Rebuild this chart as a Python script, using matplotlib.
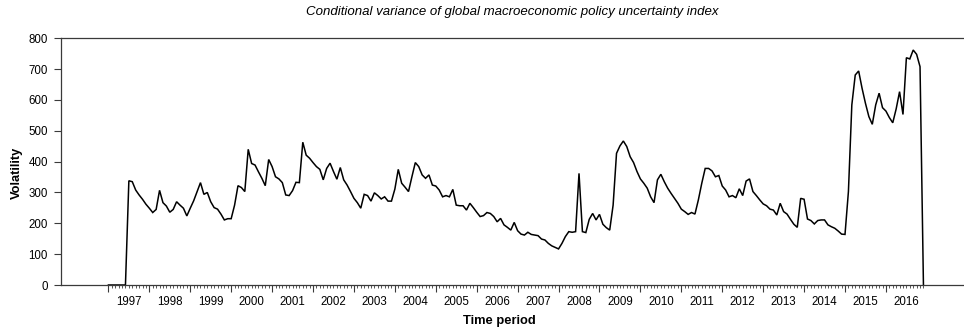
import matplotlib
matplotlib.use("Agg")
import matplotlib.pyplot as plt

plt.rcParams['font.family'] = ['Liberation Sans', 'DejaVu Sans']

# Monthly conditional variance, Jan 1997 - Dec 2016
years = list(range(1997, 2017))
volatility = [
    0, 0, 0, 0, 0, 0, 338, 335, 308, 292, 278, 262,
    249, 235, 245, 307, 267, 256, 236, 245, 270, 259, 249, 224,
    249, 273, 303, 332, 294, 300, 270, 251, 246, 230, 211, 215,
    215, 259, 322, 316, 303, 440, 394, 389, 367, 346, 322, 407,
    384, 351, 344, 332, 292, 290, 306, 333, 332, 463, 421, 411,
    397, 384, 375, 341, 378, 395, 368, 343, 381, 341, 324, 303,
    281, 267, 249, 294, 290, 272, 299, 290, 279, 286, 272, 272,
    311, 375, 330, 317, 303, 351, 397, 384, 357, 346, 357, 324,
    321, 308, 286, 290, 286, 310, 259, 257, 257, 243, 265, 251,
    236, 222, 225, 235, 232, 222, 205, 216, 195, 187, 178, 203,
    176, 165, 162, 171, 164, 162, 160, 149, 146, 135, 127, 122,
    117, 135, 157, 173, 171, 173, 362, 173, 170, 213, 232, 211,
    229, 197, 186, 178, 259, 427, 451, 467, 449, 416, 397, 368,
    344, 330, 314, 286, 267, 341, 359, 335, 314, 297, 281, 265,
    246, 238, 229, 235, 230, 276, 330, 378, 378, 370, 351, 355,
    321, 308, 286, 290, 283, 312, 290, 337, 344, 303, 290, 276,
    263, 257, 246, 243, 227, 265, 238, 230, 213, 197, 187, 281,
    278, 214, 209, 198, 209, 211, 211, 195, 189, 184, 175, 165,
    164, 303, 584, 681, 694, 638, 589, 546, 521, 584, 622, 575,
    564, 543, 526, 571, 627, 553, 737, 733, 762, 748, 708, 0,
]
months = list(range(len(volatility)))
y_ticks = [0, 100, 200, 300, 400, 500, 600, 700, 800]

W, H = 964, 329
fig = plt.figure(figsize=(W / 100, H / 100), dpi=100)
ax = fig.add_axes([61 / W, 1 - 285 / H, (963 - 61) / W, (285 - 38.3) / H])

ax.plot(months, volatility, color='black', lw=1.1, solid_joinstyle='miter')

ax.set_xlim(-13.9, 250.6)
ax.set_ylim(0, 800)

spine_col = '#3a3a3a'
for side in ('left', 'top', 'bottom'):
    ax.spines[side].set_color(spine_col)
    ax.spines[side].set_linewidth(0.9)
ax.spines['right'].set_visible(False)

# year boundaries as long ticks, months as short ticks, year labels mid-year
ax.set_xticks([12 * k for k in range(len(years))])
ax.set_xticklabels([])
minor_pos = list(range(len(volatility)))
minor_lab = ['' for _ in minor_pos]
for k, yr in enumerate(years):
    minor_lab[12 * k + 6] = str(yr)
ax.set_xticks(minor_pos, minor_lab, minor=True)
ax.tick_params(axis='x', which='major', direction='out', length=5, width=0.8,
               color=spine_col)
ax.tick_params(axis='x', which='minor', direction='out', length=2.2, width=0.6,
               color=spine_col, labelsize=8.3, pad=5.5)

ax.set_yticks(y_ticks)
ax.tick_params(axis='y', direction='out', length=5, width=0.8, color=spine_col,
               labelsize=8.3, pad=4.5)

fig.text(512 / W, 1 - 12 / H,
         'Conditional variance of global macroeconomic policy uncertainty index',
         ha='center', va='center', fontsize=9.5, style='italic')
fig.text(499 / W, 1 - 321 / H, 'Time period', ha='center', va='center',
         fontsize=9.3, fontweight='bold')
fig.text(17 / W, 1 - 173 / H, 'Volatility', ha='center', va='center',
         rotation=90, fontsize=9.3, fontweight='bold')

fig.savefig('out.png', dpi=100)
